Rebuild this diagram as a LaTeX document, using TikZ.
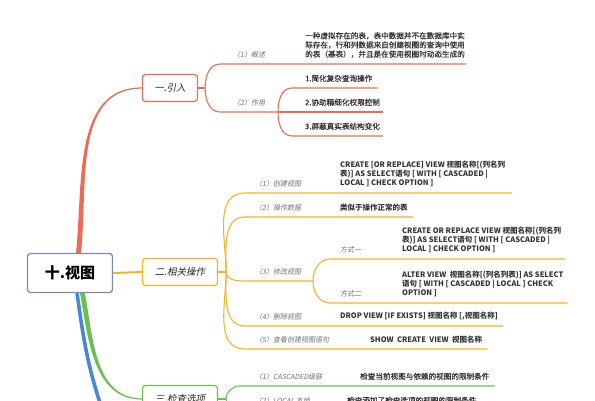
\documentclass[tikz,border=0pt]{standalone}
\usepackage{fontspec}
\setmainfont{Noto Sans CJK SC}
\newfontfamily\slantcjk[FakeSlant=0.2]{Noto Sans CJK SC}
\newfontfamily\leafcjk[FakeBold=0.6]{Noto Sans CJK SC}
\usetikzlibrary{positioning,calc}
\definecolor{redbr}{HTML}{EE6A55}
\definecolor{orgbr}{HTML}{F4B324}
\definecolor{grnbr}{HTML}{6CBE4E}
\definecolor{blubr}{HTML}{4A86D6}
\definecolor{rootgray}{HTML}{7F8CA6}
\definecolor{hintgray}{HTML}{707070}
\definecolor{leafgray}{HTML}{333333}
\tikzset{
topic/.style={draw=rootgray,line width=1.3pt,rounded corners=3pt,fill=white,minimum width=85pt,minimum height=39pt,font=\fontsize{15}{18}\selectfont\bfseries},
subtopic/.style={draw,line width=1.2pt,rounded corners=3pt,fill=white,minimum height=27pt,text=black!85,font=\fontsize{9.5}{11}\selectfont\slantcjk},
hint/.style={anchor=south west,inner sep=0pt,text=hintgray,font=\fontsize{7}{8.4}\selectfont\slantcjk},
leaf/.style={anchor=south west,inner sep=0pt,align=left,text=leafgray,font=\fontsize{7.6}{9.2}\selectfont\leafcjk},
codeleaf/.style={leaf,font=\fontsize{7.5}{9.2}\selectfont\bfseries},
rbranch/.style={draw=redbr,line width=1.1pt},
obranch/.style={draw=orgbr,line width=1.1pt},
gbranch/.style={draw=grnbr,line width=1.1pt}
}
\begin{document}
\begin{tikzpicture}[x=1pt,y=-1pt]
\useasboundingbox (0,0) rectangle (595,400);
\node[topic](root) at (70,273){十.视图};
\node[subtopic,draw=redbr,minimum width=55pt](intro) at (170,88){一.引入};
\node[subtopic,draw=orgbr,minimum width=75pt](ops) at (180,272){二.相关操作};
\node[subtopic,draw=grnbr,minimum width=75pt](chk) at (180,399){三.检查选项};
% main branches
\fill[redbr]($(root.north)+(6,0)$) to[out=84,in=180]($(intro.west)+(0,-0.6)$) -- ($(intro.west)+(0,0.6)$) to[out=180,in=84]($(root.north)+(11,0)$) -- cycle;
\draw[orgbr,line width=2pt](root.east) -- (ops.west);
\coordinate(bluend) at (106,420);
\draw[blubr,line width=3.6pt]($(root.south)+(7,0)$) to[out=-82,in=110](bluend);
\fill[grnbr]($(root.south)+(10,0)$) to[out=-80,in=180]($(chk.west)+(0,0.6)$) -- ($(chk.west)+(0,-0.6)$) to[out=180,in=-80]($(root.south)+(15,0)$) -- cycle;

% 一.引入
\coordinate(rh) at ($(intro.east)+(7,0)$);
\coordinate(r1) at (220,64);\coordinate(r2) at (220,112);\coordinate(rh2) at (278,112);
\coordinate(r21) at (292,88);\coordinate(r23) at (292,136);
\node[hint](l11) at (233,58){（1）概述};
\node[leaf](t11) at (305,58){一种虚拟存在的表，表中数据并不在数据库中实\\际存在，行和列数据来自创建视图的查询中使用\\的表（基表），并且是在使用视图时动态生成的};
\node[hint](l12) at (233,106){（2）作用};
\node[leaf](t21) at (305,82){1.简化复杂查询操作};
\node[leaf](t22) at (305,106){2.协助精细化权限控制};
\node[leaf](t23) at (305,130){3.屏蔽真实表结构变化};
\draw[rbranch](intro.east) -- (rh);
\draw[rbranch](rh) to[out=90,in=180](r1) -- ($(r1 -| t11.east)+(1,0)$);
\draw[rbranch](rh) to[out=-90,in=180](r2) -- (rh2);
\draw[rbranch](rh2) to[out=90,in=180](r21) -- ($(r21 -| t21.east)+(5,0)$);
\draw[rbranch](rh2) -- ($(rh2 -| t22.east)+(3,0)$);
\draw[rbranch](rh2) to[out=-90,in=180](r23) -- ($(r23 -| t23.east)+(3,0)$);

% 二.相关操作
\coordinate(oh) at ($(ops.east)+(8,0)$);
\coordinate(o1) at (245,193);\coordinate(o2) at (245,217);\coordinate(o3) at (245,281);
\coordinate(o4) at (245,326);\coordinate(o5) at (245,349);
\coordinate(oh3) at (313,281);\coordinate(o31) at (330,259);\coordinate(o32) at (330,303);
\node[hint](l21) at (255,187){（1）创建视图};
\node[codeleaf](t21c) at (340,187){CREATE [OR REPLACE] VIEW 视图名称[(列名列\\表)] AS SELECT语句 [ WITH [ CASCADED |\\LOCAL ] CHECK OPTION ]};
\node[hint](l22) at (255,211){（2）操作数据};
\node[codeleaf](t22c) at (340,211){类似于操作正常的表};
\node[hint](l23) at (255,275){（3）修改视图};
\node[hint](l231) at (340,253){方式一};
\node[codeleaf](t231) at (402,253){CREATE OR REPLACE VIEW 视图名称[(列名列\\表)] AS SELECT语句 [ WITH [ CASCADED |\\LOCAL ] CHECK OPTION ]};
\node[hint](l232) at (340,297){方式二};
\node[codeleaf](t232) at (402,297){ALTER VIEW~~视图名称[(列名列表)] AS SELECT\\语句 [ WITH [ CASCADED | LOCAL ] CHECK\\OPTION ]};
\node[hint](l24) at (255,320){（4）删除视图};
\node[codeleaf](t24c) at (340,320){DROP VIEW [IF EXISTS] 视图名称 [,视图名称]};
\node[hint](l25) at (255,343){（5）查看创建视图语句};
\node[codeleaf](t25c) at (370,343){SHOW~~CREATE~~VIEW~~视图名称};
\draw[obranch](ops.east) -- (oh);
\draw[obranch](oh) to[out=90,in=180](o1) -- ($(o1 -| t21c.east)+(7,0)$);
\draw[obranch](oh) to[out=90,in=180](o2) -- ($(o2 -| t22c.east)+(5,0)$);
\draw[obranch](oh) to[out=-90,in=180](o3) -- (oh3);
\draw[obranch](oh3) to[out=90,in=180](o31) -- ($(o31 -| t231.east)+(4,0)$);
\draw[obranch](oh3) to[out=-90,in=180](o32) -- ($(o32 -| t232.east)+(4,0)$);
\draw[obranch](oh) to[out=-90,in=180](o4) -- ($(o4 -| t24c.east)+(5,0)$);
\draw[obranch](oh) to[out=-90,in=180](o5) -- ($(o5 -| t25c.east)+(5,0)$);

% 三.检查选项
\coordinate(gh) at ($(chk.east)+(8,0)$);
\coordinate(g1) at (240,386);\coordinate(g2) at (240,410);
\node[hint](l31) at (255,380){（1）CASCADED级联};
\node[leaf](t31) at (360,380){检查当前视图与依赖的视图的限制条件};
\node[hint](l32) at (255,404){（2）LOCAL 本地};
\node[leaf](t32) at (347,404){检查添加了检查选项的视图的限制条件};
\draw[gbranch](chk.east) -- (gh);
\draw[gbranch](gh) to[out=90,in=180](g1) -- ($(g1 -| t31.east)+(5,0)$);
\draw[gbranch](gh) to[out=-90,in=180](g2) -- ($(g2 -| t32.east)+(5,0)$);
\end{tikzpicture}
\end{document}
